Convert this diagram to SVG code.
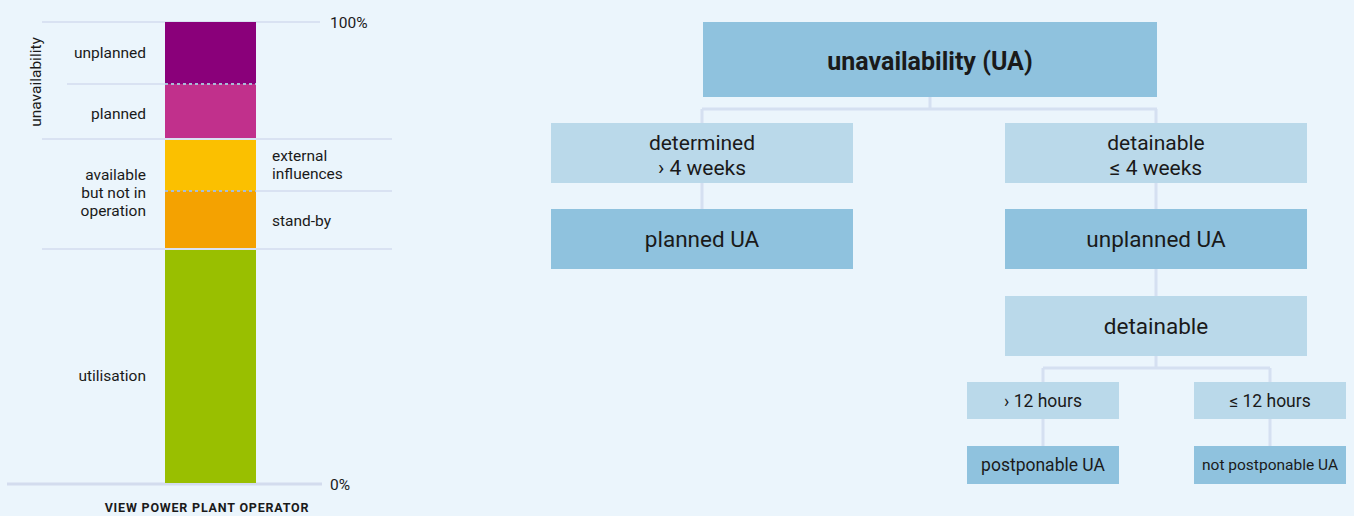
<svg xmlns="http://www.w3.org/2000/svg" width="1354" height="516" viewBox="0 0 1354 516">
<style>
text{font-family:Roboto,"Noto Sans",sans-serif;fill:#1a1a1a}
.l{font-size:15.5px;text-anchor:end}
.r{font-size:15.5px}
.g{stroke:#d3dcee;stroke-width:1.5;fill:none}
.dot{stroke:#a9bcd6;stroke-width:2;stroke-dasharray:3 3;fill:none}
.dk{fill:#8fc2de}
.lt{fill:#bad9ea}
.c{stroke:#d5e0f1;stroke-width:3;fill:none}
.t{font-size:21px;text-anchor:middle}
.t1{font-size:22.5px;text-anchor:middle}
.h{font-size:25px;font-weight:bold;text-anchor:middle}
.s{font-size:17.5px;text-anchor:middle}
.xs{font-size:15.5px;text-anchor:middle}
</style>
<rect width="1354" height="516" fill="#ebf5fc"/>
<g id="chart">
<path class="g" d="M42 22H320M67 84H165M42 139H392M256 191H392M42 249H392"/>
<path d="M7 484H322" stroke="#d3dcee" stroke-width="3"/>
<rect x="165" y="22" width="91" height="62" fill="#8a007a"/>
<rect x="165" y="84" width="91" height="54" fill="#c1308c"/>
<rect x="165" y="140" width="91" height="51" fill="#fbc000"/>
<rect x="165" y="191" width="91" height="57" fill="#f4a201"/>
<rect x="165" y="250" width="91" height="233" fill="#99bf00"/>
<path class="dot" d="M165 84H256M165 191H256"/>
<text x="330" y="28" class="r">100%</text>
<text x="330" y="490" class="r">0%</text>
<text x="146" y="58" class="l">unplanned</text>
<text x="146" y="119" class="l">planned</text>
<text x="146" y="180" class="l">available</text>
<text x="146" y="198" class="l">but not in</text>
<text x="146" y="216" class="l">operation</text>
<text x="272" y="161" class="r">external</text>
<text x="272" y="179" class="r">influences</text>
<text x="272" y="226" class="r">stand-by</text>
<text x="146" y="381" class="l">utilisation</text>
<text transform="translate(41 82) rotate(-90)" class="r" text-anchor="middle">unavailability</text>
<text x="207" y="512" text-anchor="middle" font-size="12.5" font-weight="bold" letter-spacing="0.8">VIEW POWER PLANT OPERATOR</text>
</g>
<g id="connectors">
<path class="c" d="M930 97V109M702 109H1157M702 109V123M1156 109V123M702 183V209M1156 183V209M1156 269V296M1156 356V368M1043 368H1270M1043 368V382M1270 368V382M1043 419V446M1270 419V446"/>
</g>
<g id="n-ua"><rect class="dk" x="703" y="22" width="454" height="75"/><text x="930" y="70" class="h">unavailability (UA)</text></g>
<g id="n-determined"><rect class="lt" x="551" y="123" width="302" height="60"/><text x="702" y="150" class="t">determined</text><text x="702" y="175" class="t">› 4 weeks</text></g>
<g id="n-detainable1"><rect class="lt" x="1005" y="123" width="302" height="60"/><text x="1156" y="150" class="t">detainable</text><text x="1156" y="175" class="t">≤ 4 weeks</text></g>
<g id="n-planned"><rect class="dk" x="551" y="209" width="302" height="60"/><text x="702" y="247" class="t1">planned UA</text></g>
<g id="n-unplanned"><rect class="dk" x="1005" y="209" width="302" height="60"/><text x="1156" y="247" class="t1">unplanned UA</text></g>
<g id="n-detainable2"><rect class="lt" x="1005" y="296" width="302" height="60"/><text x="1156" y="334" class="t1">detainable</text></g>
<g id="n-gt12"><rect class="lt" x="967" y="382" width="152" height="37"/><text x="1043" y="407" class="s">› 12 hours</text></g>
<g id="n-le12"><rect class="lt" x="1194" y="382" width="152" height="37"/><text x="1270" y="407" class="s">≤ 12 hours</text></g>
<g id="n-postponable"><rect class="dk" x="967" y="446" width="152" height="38"/><text x="1043" y="471" class="s">postponable UA</text></g>
<g id="n-notpostponable"><rect class="dk" x="1194" y="446" width="152" height="38"/><text x="1270" y="470" class="xs">not postponable UA</text></g>
</svg>
